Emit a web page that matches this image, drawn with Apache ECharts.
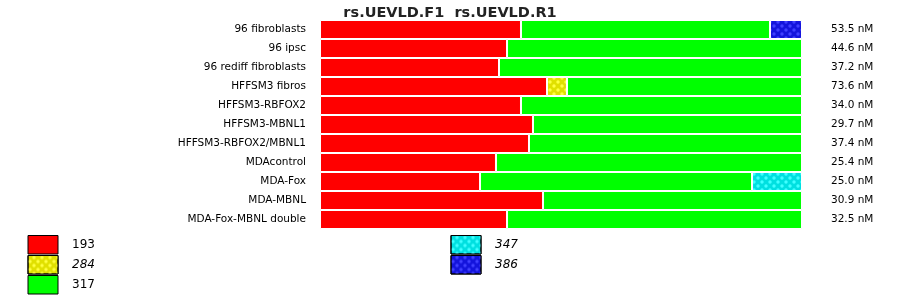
<!DOCTYPE html>
<html>
<head>
<meta charset="utf-8">
<script src="https://cdn.jsdelivr.net/npm/echarts@6/dist/echarts.min.js"></script>
<style>html,body{margin:0;padding:0;background:#fff}#c{width:900px;height:299px}</style>
</head>
<body>
<div id="c"></div>
<script>
var titleText = 'rs.UEVLD.F1  rs.UEVLD.R1';
var categories = ['96 fibroblasts','96 ipsc','96 rediff fibroblasts','HFFSM3 fibros','HFFSM3-RBFOX2','HFFSM3-MBNL1','HFFSM3-RBFOX2/MBNL1','MDAcontrol','MDA-Fox','MDA-MBNL','MDA-Fox-MBNL double'];
var concentrations = ['53.5 nM','44.6 nM','37.2 nM','73.6 nM','34.0 nM','29.7 nM','37.4 nM','25.4 nM','25.0 nM','30.9 nM','32.5 nM'];
var seriesNames = ['193','284','317','347','386'];
var v193 = [41.70, 38.80, 37.14, 47.10, 41.70, 44.19, 43.36, 36.51, 33.20, 46.27, 38.80];
var v284 = [null, null, null, 4.14, null, null, null, null, null, null, null];
var v317 = [51.66, 61.20, 62.86, 48.76, 58.30, 55.81, 56.64, 63.49, 56.43, 53.73, 61.20];
var v347 = [null, null, null, null, null, null, null, null, 10.37, null, null];
var v386 = [6.64, null, null, null, null, null, null, null, null, null, null];

var values = [v193, v284, v317, v347, v386];
var fills = ['#e0e000', '#e0e000', '#00ff00', '#00e0e0', '#1414dc'];
fills[0] = '#ff0000';
var dotColors = [null, '#ffff40', null, '#40ffff', '#4040ff'];
var italic = [false, true, false, true, true];

var chart = echarts.init(document.getElementById('c'), null, {renderer: 'canvas'});
var series = seriesNames.map(function (n, i) {
  var style = {color: fills[i], borderColor: '#ffffff', borderWidth: 1};
  if (dotColors[i]) {
    style.decal = {symbol: 'circle', color: dotColors[i], symbolSize: 0.85,
      dashArrayX: [[3.5, 3.5], [0, 3.5, 3.5, 0]], dashArrayY: [3.5, 0], rotation: 0};
  }
  return {name: n, type: 'bar', stack: 'all', data: values[i], barCategoryGap: 0,
    itemStyle: style, emphasis: {disabled: true}, animation: false};
});
function legendData(names) {
  return names.map(function (n) {
    var i = seriesNames.indexOf(n);
    return {name: n, textStyle: {fontStyle: italic[i] ? 'italic' : 'normal'}};
  });
}
var legendCommon = {orient: 'vertical', icon: 'rect', itemWidth: 30, itemHeight: 18.5, itemGap: 0.5,
  padding: 0, height: 80,
  itemStyle: {borderColor: '#000', borderWidth: 1},
  textStyle: {fontFamily: 'DejaVu Sans', fontSize: 12, color: '#000', padding: [0, 0, 0, 9]},
  selectedMode: false};
chart.setOption({
  backgroundColor: '#fff',
  animation: false,
  title: {text: titleText, left: 'center', top: 1,
    textStyle: {fontFamily: 'DejaVu Sans', fontSize: 14.5, fontWeight: 'bold', color: '#222'}},
  legend: [
    Object.assign({left: 27.5, top: 235, data: legendData(['193', '284', '317'])}, legendCommon),
    Object.assign({left: 450.5, top: 235, data: legendData(['347', '386'])}, legendCommon)
  ],
  grid: {left: 320, top: 20, width: 482, height: 209, containLabel: false},
  xAxis: {type: 'value', min: 0, max: 100, show: false},
  yAxis: [
    {type: 'category', data: categories, inverse: true, position: 'left',
      axisLine: {show: false}, axisTick: {show: false}, splitLine: {show: false},
      axisLabel: {fontFamily: 'DejaVu Sans', fontSize: 10.5, color: '#000', margin: 14}},
    {type: 'category', data: concentrations, inverse: true, position: 'right',
      axisLine: {show: false}, axisTick: {show: false}, splitLine: {show: false},
      axisLabel: {fontFamily: 'DejaVu Sans', fontSize: 10.5, color: '#000', margin: 29}}
  ],
  series: series
});
</script>
</body>
</html>
